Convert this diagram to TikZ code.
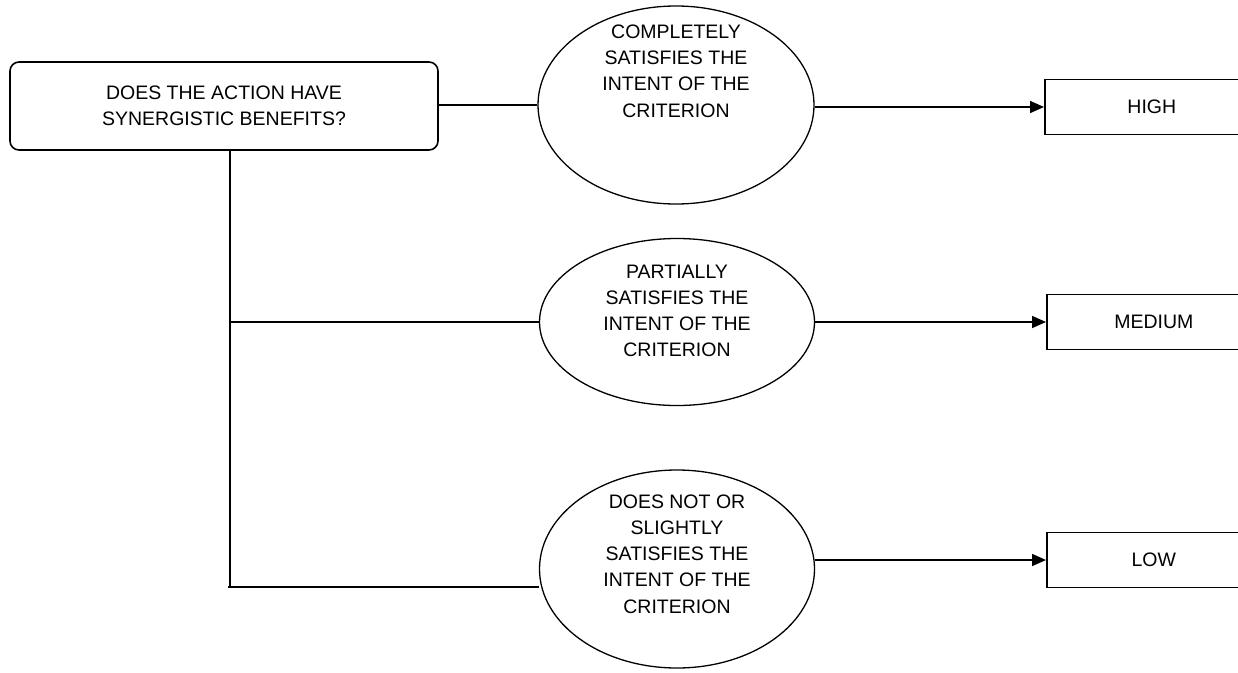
\documentclass[tikz,border=0pt]{standalone}
\usepackage{fontspec}
\setmainfont{Liberation Sans}
\usetikzlibrary{shapes,arrows.meta,positioning,calc}

\begin{document}
\begin{tikzpicture}[
x=1pt,y=-1pt,
line width=1.6pt,
txt/.style={
  align=center,
  inner sep=0pt,
  font=\fontsize{19.5}{26.2}\selectfont
},
ques/.style={
  draw,
  rounded corners=9pt,
  minimum width=428pt,
  minimum height=88pt,
  txt
},
crit/.style={
  draw,
  ellipse,
  line width=1.3pt,
  inner sep=0pt
},
rank/.style={
  draw,
  anchor=west,
  minimum width=214pt,
  minimum height=55pt,
  txt
},
arr/.style={-{Triangle[length=14pt,width=12pt]}}
]
\useasboundingbox (0,0) rectangle (1238,672);

\node[ques] (q) at (224,106) 
  {DOES THE ACTION HAVE\\SYNERGISTIC BENEFITS?};

\node[crit,minimum width=276pt,minimum height=198pt] (c1) at (676,105) {};
\node[txt] (t1) at (676,71) 
  {COMPLETELY\\SATISFIES THE\\INTENT OF THE\\CRITERION};

\node[crit,minimum width=275pt,minimum height=167pt] (c2) at (677,322) {};
\node[txt] (t2) at (677,311) 
  {PARTIALLY\\SATISFIES THE\\INTENT OF THE\\CRITERION};

\node[crit,minimum width=275pt,minimum height=198pt] (c3) at (677,569) {};
\node[txt] (t3) at (677,554) 
  {DOES NOT OR\\SLIGHTLY\\SATISFIES THE\\INTENT OF THE\\CRITERION};

\node[rank] (high) at (1044,107) {HIGH};
\node[rank] (medium) at (1046,322) {MEDIUM};
\node[rank] (low) at (1046,560) {LOW};

% branches
\coordinate (b2) at (230,322);
\coordinate (b3) at (228,587);

\draw (q.east |- c1) -- (c1.west);
\draw (q.south -| b2) -- (b2) -- (b3 -| b2);
\draw (b2) -- (b2 -| c2.west);
\draw (b3) -- (b3 -| c3.west);

\draw[arr] (c1.east |- high) -- (high.west);
\draw[arr] (c2.east |- medium) -- (medium.west);
\draw[arr] (c3.east |- low) -- (low.west);
\end{tikzpicture}
\end{document}
